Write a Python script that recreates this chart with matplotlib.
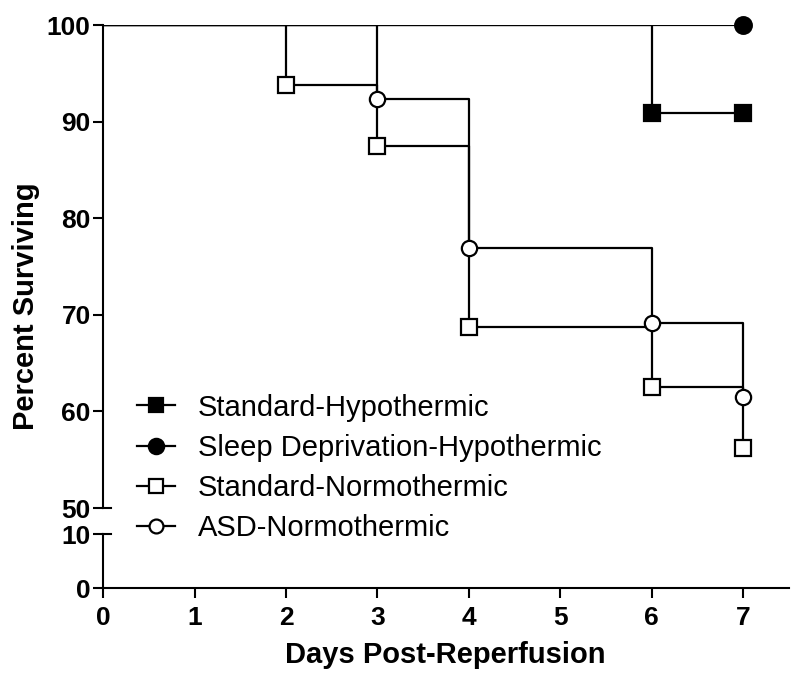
import matplotlib.pyplot as plt
from matplotlib.lines import Line2D

plt.rcParams['font.family'] = ['Liberation Sans', 'DejaVu Sans']
plt.rcParams['font.weight'] = 'bold'

# Kaplan-Meier survival data (days, percent surviving)
std_hypo_days = [0, 6, 7]
std_hypo_surv = [100, 90.9, 90.9]

sd_hypo_days = [0, 7]
sd_hypo_surv = [100, 100]

std_normo_days = [0, 2, 3, 4, 6, 7]
std_normo_surv = [100, 93.75, 87.5, 68.75, 62.5, 56.25]

asd_normo_days = [0, 3, 4, 6, 7]
asd_normo_surv = [100, 92.3, 76.9, 69.2, 61.5]

labels = ["Standard-Hypothermic", "Sleep Deprivation-Hypothermic",
          "Standard-Normothermic", "ASD-Normothermic"]
x_ticks = [0, 1, 2, 3, 4, 5, 6, 7]

series = [
    (std_hypo_days, std_hypo_surv, 's', 'k', 11),
    (sd_hypo_days, sd_hypo_surv, 'o', 'k', 12),
    (std_normo_days, std_normo_surv, 's', 'none', 11),
    (asd_normo_days, asd_normo_surv, 'o', 'none', 11),
]

fig = plt.figure(figsize=(8, 6.82), dpi=100)
ax = fig.add_axes([0.129, 0.2551, 0.857, 0.7082])
axb = fig.add_axes([0.129, 0.1378, 0.857, 0.0792])

lw = 1.6
for days, surv, mk, fc, ms in series:
    ax.plot(days, surv, drawstyle='steps-post', color='k', lw=lw, zorder=2)
    ax.plot(days[1:], surv[1:], ls='none', marker=mk, ms=ms, mfc=fc if fc != 'none' else 'white',
            mec='k', mew=1.6, zorder=3, clip_on=False)

ax.set_xlim(0, 7.5)
ax.set_ylim(50, 100)
ax.set_yticks([50, 60, 70, 80, 90, 100])
ax.set_xticks([])
for s in ['top', 'right', 'bottom']:
    ax.spines[s].set_visible(False)
ax.spines['left'].set_linewidth(1.5)
ax.tick_params(axis='y', direction='out', length=7, width=1.5, labelsize=19, pad=2)
ax.axhline(50, xmin=0, xmax=0.011, color='k', lw=1.5, clip_on=False)

axb.set_xlim(0, 7.5)
axb.set_ylim(0, 10)
axb.set_yticks([0, 10])
axb.set_xticks(x_ticks)
for s in ['top', 'right']:
    axb.spines[s].set_visible(False)
axb.spines['left'].set_linewidth(1.5)
axb.spines['bottom'].set_linewidth(1.5)
axb.tick_params(axis='y', direction='out', length=7, width=1.5, labelsize=19, pad=2)
axb.tick_params(axis='x', direction='out', length=7, width=1.5, labelsize=19, pad=6)
axb.axhline(10, xmin=0, xmax=0.011, color='k', lw=1.5, clip_on=False)

fig.text(0.557, 0.04, "Days Post-Reperfusion", ha='center', va='center', fontsize=21)
fig.text(0.032, 0.551, "Percent Surviving", ha='center', va='center', rotation=90, fontsize=21)

handles = []
for days, surv, mk, fc, ms in series:
    handles.append(Line2D([], [], color='k', lw=lw, marker=mk, ms=ms - 1,
                          mfc=fc if fc != 'none' else 'white', mec='k', mew=1.6))
fig.legend(handles, labels, loc='center left', bbox_to_anchor=(0.171, 0.3138),
           frameon=False, borderpad=0, borderaxespad=0, handlelength=1.3,
           handletextpad=0.8, labelspacing=0.42, numpoints=1,
           prop={'weight': 'normal', 'size': 21})

fig.savefig("out.png", dpi=100)
